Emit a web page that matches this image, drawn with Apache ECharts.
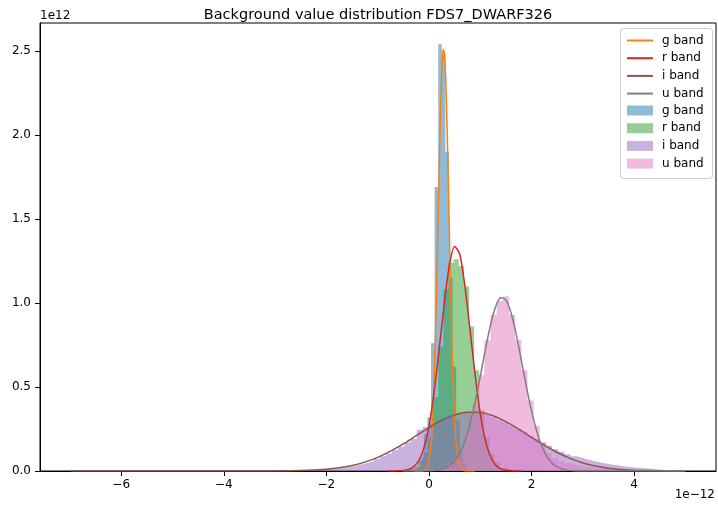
<!DOCTYPE html>
<html>
<head>
<meta charset="utf-8">
<script src="https://cdn.jsdelivr.net/npm/echarts@6/dist/echarts.min.js"></script>
<style>html,body{margin:0;padding:0;background:#fff;}#c{width:718px;height:508px;}</style>
</head>
<body>
<div id="c"></div>
<script>
// ---- data (x in units of 1e-12, y in units of 1e12) ----
const xTicks = [-6, -4, -2, 0, 2, 4];
const yTicks = [0, 0.5, 1.0, 1.5, 2.0, 2.5];

// histograms: first bin left edge, bin width, bin heights
const gHistStart = -0.24, gHistWidth = 0.07;
const gHist = [0.02, 0.08, 0.22, 0.32, 0.76, 1.69, 2.54, 2.48, 1.90, 1.15, 0.62, 0.30, 0.12, 0.04, 0.01];

const rHistStart = -0.62, rHistWidth = 0.10;
const rHist = [0.005, 0.01, 0.02, 0.03, 0.06, 0.11, 0.20, 0.44, 0.74, 1.08, 1.24, 1.26, 1.22, 1.10, 0.86, 0.60, 0.36, 0.20, 0.10, 0.05, 0.02, 0.01, 0.005];

const iHistStart = -6.96, iHistWidth = 0.12;
const iHist = [
  0.001, 0, 0, 0, 0, 0, 0, 0, 0, 0,
  0, 0, 0, 0, 0, 0, 0, 0, 0, 0,
  0, 0, 0, 0, 0.001, 0, 0, 0, 0.001, 0,
  0.001, 0.001, 0.002, 0.002, 0.003, 0.003, 0.004, 0.005, 0.006, 0.008,
  0.010, 0.012, 0.015, 0.019, 0.024, 0.031, 0.038, 0.047, 0.058, 0.072,
  0.088, 0.104, 0.125, 0.146, 0.170, 0.192, 0.245, 0.262, 0.280, 0.300,
  0.315, 0.330, 0.340, 0.345, 0.350, 0.350, 0.345, 0.335, 0.320, 0.305,
  0.290, 0.270, 0.250, 0.230, 0.210, 0.190, 0.170, 0.150, 0.130, 0.115,
  0.100, 0.088, 0.077, 0.067, 0.058, 0.050, 0.043, 0.037, 0.032, 0.027,
  0.023, 0.019, 0.016, 0.013, 0.010, 0.008, 0.006, 0.004, 0.003, 0.002
];

const uHistStart = -0.36, uHistWidth = 0.12;
const uHist = [
  0.003, 0.005, 0.008, 0.012, 0.018, 0.028, 0.045, 0.075, 0.13, 0.25,
  0.40, 0.57, 0.78, 0.93, 1.01, 1.04, 0.93, 0.78, 0.60, 0.42,
  0.27, 0.17, 0.11, 0.078, 0.060, 0.047, 0.038, 0.031, 0.026, 0.021,
  0.018, 0.015, 0.012, 0.010, 0.008, 0.007, 0.006, 0.005, 0.004, 0.003,
  0.002, 0.002, 0.001, 0.001
];

// fitted curves: [x, y]
const gFit = [[-0.30,0],[-0.20,0],[-0.10,0.003],[-0.05,0.016],[-0.025,0.032],[0.00,0.064],[0.025,0.117],[0.05,0.206],[0.075,0.341],[0.10,0.534],[0.125,0.789],[0.15,1.10],[0.175,1.46],[0.20,1.82],[0.225,2.14],[0.25,2.38],[0.275,2.51],[0.30,2.49],[0.325,2.34],[0.35,2.08],[0.375,1.75],[0.40,1.38],[0.425,1.04],[0.45,0.73],[0.475,0.49],[0.50,0.31],[0.525,0.185],[0.55,0.104],[0.575,0.056],[0.60,0.028],[0.625,0.013],[0.65,0.006],[0.70,0.001],[0.80,0],[0.90,0]];
const rFit = [[-0.8,0],[-0.7,0],[-0.6,0.001],[-0.5,0.003],[-0.4,0.009],[-0.3,0.025],[-0.2,0.061],[-0.1,0.136],[0.0,0.268],[0.1,0.47],[0.2,0.73],[0.3,1.00],[0.4,1.23],[0.5,1.337],[0.6,1.29],[0.7,1.10],[0.8,0.84],[0.9,0.57],[1.0,0.34],[1.1,0.18],[1.2,0.086],[1.3,0.036],[1.4,0.013],[1.5,0.004],[1.6,0.001],[1.7,0],[1.8,0]];
const iFit = [[-6.98,0],[-6.0,0],[-5.0,0],[-4.0,0],[-3.5,0.0001],[-3.0,0.0006],[-2.5,0.003],[-2.0,0.011],[-1.75,0.019],[-1.5,0.033],[-1.25,0.053],[-1.0,0.081],[-0.75,0.118],[-0.5,0.161],[-0.25,0.210],[0.0,0.258],[0.25,0.302],[0.5,0.334],[0.75,0.350],[1.0,0.349],[1.25,0.329],[1.5,0.294],[1.75,0.249],[2.0,0.200],[2.25,0.152],[2.5,0.110],[2.75,0.075],[3.0,0.048],[3.25,0.030],[3.5,0.017],[3.75,0.0096],[4.0,0.005],[4.5,0.0012],[5.0,0.0003]];
const uFit = [[-0.5,0],[0.0,0.001],[0.1,0.003],[0.2,0.007],[0.3,0.016],[0.4,0.032],[0.5,0.060],[0.6,0.107],[0.7,0.179],[0.8,0.281],[0.9,0.411],[1.0,0.563],[1.1,0.724],[1.2,0.870],[1.3,0.979],[1.4,1.032],[1.5,1.019],[1.6,0.941],[1.7,0.815],[1.8,0.660],[1.9,0.501],[2.0,0.356],[2.1,0.237],[2.2,0.147],[2.3,0.086],[2.4,0.047],[2.5,0.024],[2.6,0.0115],[2.7,0.0052],[2.8,0.002],[3.0,0.0003],[3.5,0],[4.0,0],[5.0,0]];

// ---- build ----
function stepData(start, width, vals) {
  const d = [];
  for (let i = 0; i < vals.length; i++) d.push([start + i * width, vals[i]]);
  d.push([start + vals.length * width, vals[vals.length - 1]]);
  return d;
}
const C = {g:'#1f77b4', r:'#2ca02c', i:'#9467bd', u:'#e377c2', gl:'#ff7f0e', rl:'#d62728', il:'#8c564b', ul:'#7f7f7f'};
function hist(name, col, start, width, vals) {
  return {
    name: name, type: 'line', step: 'end', data: stepData(start, width, vals),
    showSymbol: false, symbol: 'none', z: 1,
    lineStyle: {width: 0, color: col},
    itemStyle: {color: col, opacity: 0.5},
    areaStyle: {color: col, opacity: 0.5},
    emphasis: {disabled: true}, silent: true
  };
}
function fit(name, col, d) {
  return {
    name: name, type: 'line', data: d, smooth: 0.25, showSymbol: false, symbol: 'none', z: 2,
    lineStyle: {width: 1.5, color: col}, itemStyle: {color: col},
    emphasis: {disabled: true}, silent: true
  };
}
const FONT = 'DejaVu Sans';
const chart = echarts.init(document.getElementById('c'), null, {renderer: 'canvas'});
chart.setOption({
  animation: false,
  backgroundColor: '#ffffff',
  textStyle: {fontFamily: FONT},
  title: {
    text: 'Background value distribution FDS7_DWARF326',
    left: 373, top: 3, textAlign: 'center',
    textStyle: {fontFamily: FONT, fontSize: 14.5, fontWeight: 'normal', color: '#000'}
  },
  grid: {left: 40, right: 2, top: 23, bottom: 37, show: true, borderColor: '#000', borderWidth: 1, backgroundColor: 'transparent'},
  xAxis: {
    type: 'value', min: -7.583, max: 5.595,
    axisLine: {show: true, onZero: false, lineStyle: {color: '#000', width: 1}},
    axisTick: {show: true, length: 5, customValues: xTicks, lineStyle: {color: '#000'}},
    axisLabel: {customValues: xTicks, margin: 8, fontSize: 12, color: '#000', fontFamily: FONT,
      formatter: v => String(v).replace('-', '\u2212')},
    splitLine: {show: false}
  },
  yAxis: {
    type: 'value', min: 0, max: 2.667,
    axisLine: {show: true, onZero: false, lineStyle: {color: '#000', width: 1}},
    axisTick: {show: true, length: 5, customValues: yTicks, lineStyle: {color: '#000'}},
    axisLabel: {customValues: yTicks, margin: 9, fontSize: 12, color: '#000', fontFamily: FONT,
      formatter: v => v.toFixed(1)},
    splitLine: {show: false}
  },
  legend: [
    {
      orient: 'vertical', left: 627, top: 34, padding: 0, itemWidth: 26, itemHeight: 2, itemGap: 4.7,
      icon: 'rect', selectedMode: false,
      textStyle: {fontFamily: FONT, fontSize: 12, color: '#000', lineHeight: 13, padding: [0, 0, 0, 4]},
      data: ['g fit', 'r fit', 'i fit', 'u fit'],
      formatter: n => n.replace(' fit', ' band')
    },
    {
      orient: 'vertical', left: 627, top: 104, padding: 0, itemWidth: 26, itemHeight: 10, itemGap: 4.7,
      icon: 'rect', selectedMode: false,
      textStyle: {fontFamily: FONT, fontSize: 12, color: '#000', lineHeight: 13, padding: [0, 0, 0, 4]},
      data: [
        {name: 'g band', itemStyle: {color: C.g, opacity: 0.5}},
        {name: 'r band', itemStyle: {color: C.r, opacity: 0.5}},
        {name: 'i band', itemStyle: {color: C.i, opacity: 0.5}},
        {name: 'u band', itemStyle: {color: C.u, opacity: 0.5}}
      ]
    }
  ],
  graphic: [
    {type: 'rect', left: 620, top: 28, z: 3, silent: true,
     shape: {width: 92, height: 150, r: 3},
     style: {fill: 'rgba(255,255,255,0.8)', stroke: '#cccccc', lineWidth: 1}},
    {type: 'text', left: 40, top: 10, z: 5, silent: true,
     style: {text: '1e12', fontFamily: FONT, fontSize: 12, fill: '#000'}},
    {type: 'text', right: 3, top: 489, z: 5, silent: true,
     style: {text: '1e\u221212', fontFamily: FONT, fontSize: 12, fill: '#000'}}
  ],
  series: [
    hist('g band', C.g, gHistStart, gHistWidth, gHist),
    hist('r band', C.r, rHistStart, rHistWidth, rHist),
    hist('i band', C.i, iHistStart, iHistWidth, iHist),
    hist('u band', C.u, uHistStart, uHistWidth, uHist),
    fit('g fit', C.gl, gFit),
    fit('r fit', C.rl, rFit),
    fit('i fit', C.il, iFit),
    fit('u fit', C.ul, uFit)
  ]
});
</script>
</body>
</html>
